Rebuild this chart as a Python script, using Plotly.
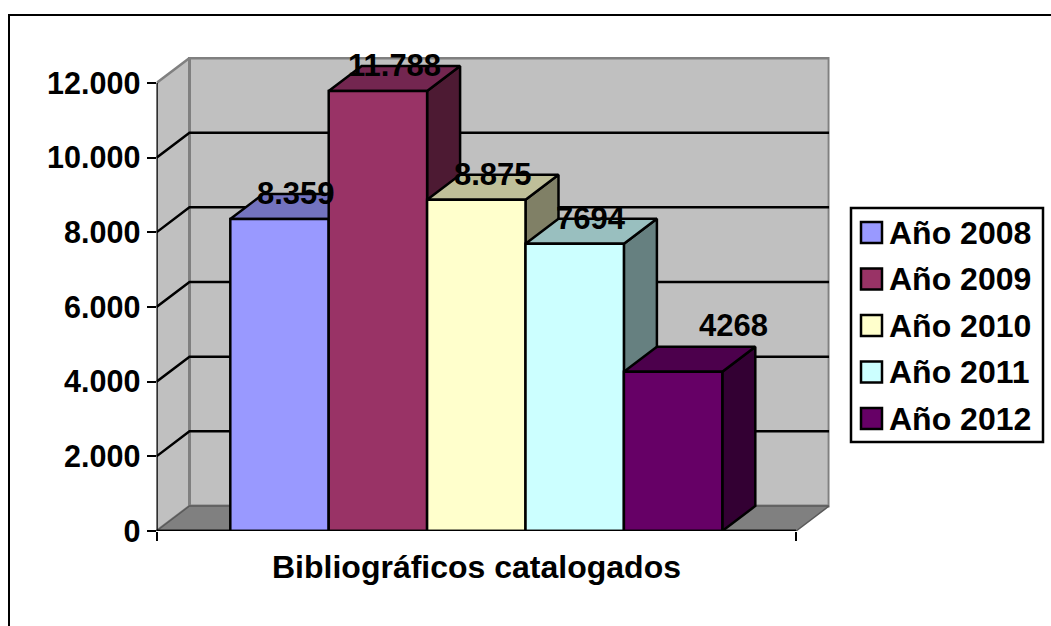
import plotly.graph_objects as go

# ---- data ----
CATEGORY = "Bibliográficos catalogados"
YEARS = ["Año 2008", "Año 2009", "Año 2010", "Año 2011", "Año 2012"]
VALUES = [8359, 11788, 8875, 7694, 4268]
VALUE_LABELS = ["8.359", "11.788", "8.875", "7694", "4268"]
Y_TICKS = [0, 2000, 4000, 6000, 8000, 10000, 12000]

# ---- style ----
FRONT = ["#9999FF", "#993366", "#FFFFCC", "#CCFFFF", "#660066"]
TOP = ["#7373BF", "#732650", "#BFBF99", "#99BFBF", "#4C004C"]
SIDE = ["#4D4D80", "#4D1A33", "#808066", "#668080", "#330033"]
LABEL_SHIFT = [(0, 0), (0, 0), (0, 0), (0, 0), (44, 21)]
W, H = 1051, 626
PX_X0, PX_X1 = 156.5, 829.5        # plot area horizontally
PX_Y0, PX_Y1 = 531.0, 57.0         # plot area vertically
PX_PER_BAR = 98.4
PX_PER_VAL = 448.0 / 12000
DEPTH_PX_X, DEPTH_PX_Y = 33.0, 25.0
GAP = 0.75                         # gap either side of the bar group, in bar widths
FONT = "Liberation Sans, Arial, sans-serif"
BLACK = "#000000"
WALL = "#C0C0C0"
FLOOR = "#808080"
LW = 2.5

dx = DEPTH_PX_X / PX_PER_BAR
dy = DEPTH_PX_Y / PX_PER_VAL
x_min = -GAP
x_max = len(VALUES) + GAP
x_range = [x_min, x_min + (PX_X1 - PX_X0) / PX_PER_BAR]
y_range = [0, (PX_Y0 - PX_Y1) / PX_PER_VAL]
y_top = Y_TICKS[-1]

fig = go.Figure()


def poly(xs, ys, fill=None, line=BLACK, width=LW):
    fig.add_trace(go.Scatter(
        x=xs, y=ys, mode="lines",
        line=dict(color=line, width=width),
        fill="toself" if fill else None, fillcolor=fill,
        hoverinfo="skip", showlegend=False, cliponaxis=False,
    ))


# walls and floor
poly([x_min, x_min + dx, x_min + dx, x_min], [0, dy, y_top + dy, y_top], fill=WALL, line=FLOOR, width=2.5)
poly([x_min + dx, x_max + dx, x_max + dx, x_min + dx, x_min + dx],
     [dy, dy, y_top + dy, y_top + dy, dy], fill=WALL, line=FLOOR, width=3)
poly([x_min, x_min + dx, x_max + dx, x_max, x_min], [0, dy, dy, 0, 0], fill=FLOOR, line="#5A5A5A", width=1.5)

# gridlines on side and back walls
for t in Y_TICKS[1:-1]:
    poly([x_min, x_min + dx, x_max + dx], [t, t + dy, t + dy])

# axis lines
poly([x_min, x_min], [0, y_top])
poly([x_min, x_max], [0, 0])

# bars
for i, v in enumerate(VALUES):
    l, r = i, i + 1
    poly([r, r + dx, r + dx, r, r], [0, dy, v + dy, v, 0], fill=SIDE[i])
    poly([l, l + dx, r + dx, r, l], [v, v + dy, v + dy, v, v], fill=TOP[i])
    poly([l, r, r, l, l], [0, 0, v, v, 0], fill=FRONT[i])
poly([x_min, x_max], [0, 0])

annotations = []
for i, (v, lab) in enumerate(zip(VALUES, VALUE_LABELS)):
    sx, sy = LABEL_SHIFT[i]
    annotations.append(dict(
        x=i + 0.5 + dx / 2, y=v + dy, text=f"<b>{lab}</b>", showarrow=False,
        xanchor="center", yanchor="middle", xshift=sx, yshift=sy,
        font=dict(family=FONT, size=31, color=BLACK),
    ))
annotations.append(dict(
    x=(x_min + x_max) / 2, y=0, yshift=-36, text=f"<b>{CATEGORY}</b>", showarrow=False,
    xanchor="center", yanchor="middle",
    font=dict(family=FONT, size=32, color=BLACK),
))

# legend box, paper coordinates
def px(x):
    return x / W


def py(y):
    return 1 - y / H


shapes = [
    # outer frame: top and left edges only
    dict(type="line", xref="paper", yref="paper", x0=px(8), x1=px(1051), y0=py(15), y1=py(15),
         line=dict(color=BLACK, width=2)),
    dict(type="line", xref="paper", yref="paper", x0=px(9), x1=px(9), y0=py(15), y1=py(626),
         line=dict(color=BLACK, width=2)),
    dict(type="rect", xref="paper", yref="paper", x0=px(851), x1=px(1043), y0=py(208), y1=py(442),
         line=dict(color=BLACK, width=2.5), fillcolor="#FFFFFF"),
]
for i, name in enumerate(YEARS):
    cy = 232.5 + 46.5 * i
    shapes.append(dict(type="rect", xref="paper", yref="paper",
                       x0=px(861), x1=px(882), y0=py(cy - 10.5), y1=py(cy + 10.5),
                       line=dict(color=BLACK, width=2.5), fillcolor=FRONT[i]))
    annotations.append(dict(
        xref="paper", yref="paper", x=px(887), y=py(cy), text=f"<b>{name}</b>", showarrow=False,
        xanchor="left", yanchor="middle",
        font=dict(family=FONT, size=32, color=BLACK),
    ))

fig.update_layout(
    width=W, height=H, autosize=False,
    margin=dict(l=0, r=0, t=0, b=0, pad=0),
    paper_bgcolor="#FFFFFF", plot_bgcolor="rgba(0,0,0,0)",
    showlegend=False,
    separators=",.",
    shapes=shapes,
    annotations=annotations,
    xaxis=dict(domain=[PX_X0 / W, PX_X1 / W], range=x_range, showgrid=False, zeroline=False,
               tickvals=[x_min, x_max], showticklabels=False, ticks="outside", ticklen=9, tickwidth=2,
               tickcolor=BLACK, fixedrange=True, automargin=False),
    yaxis=dict(domain=[1 - PX_Y0 / H, 1 - PX_Y1 / H], range=y_range, showgrid=False, zeroline=False,
               tickvals=Y_TICKS, tickformat=",d", ticks="outside", ticklen=9, tickwidth=2,
               tickcolor=BLACK, automargin=False,
               tickfont=dict(family=FONT, size=30.5, color=BLACK, weight="bold"), fixedrange=True),
)

fig.write_html("out.html", config=dict(displayModeBar=False),
               post_script="document.body.style.margin='0';document.body.style.overflow='hidden';")
